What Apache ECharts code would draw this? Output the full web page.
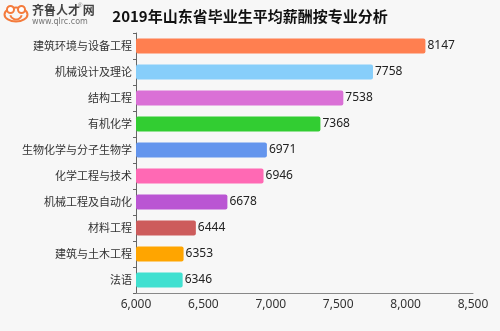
<!DOCTYPE html>
<html><head><meta charset="utf-8">
<script src="https://cdn.jsdelivr.net/npm/echarts@6/dist/echarts.min.js"></script>
<style>html,body{margin:0;padding:0;background:#f7f7f7;}#c{width:500px;height:331px;}</style>
</head><body><div id="c"></div>
<script>
const categories = ['建筑环境与设备工程','机械设计及理论','结构工程','有机化学','生物化学与分子生物学','化学工程与技术','机械工程及自动化','材料工程','建筑与土木工程','法语'];
const salaries = [8147, 7758, 7538, 7368, 6971, 6946, 6678, 6444, 6353, 6346];
const barColors = ['#ff7f50','#87cefa','#da70d6','#32cd32','#6495ed','#ff69b4','#ba55d3','#cd5c5c','#ffa500','#40e0d0'];
const titleText = '2019年山东省毕业生平均薪酬按专业分析';

const chart = echarts.init(document.getElementById('c'));
chart.setOption({
  backgroundColor: '#f7f7f7',
  animation: false,
  title: {
    text: titleText, left: 'center', top: 4,
    textStyle: {fontSize: 15, fontWeight: 'bold', color: '#111', fontFamily: 'Noto Sans CJK SC'}
  },
  graphic: [
    {type: 'group', left: 2, top: 5, children: [
      {type: 'ellipse', shape: {cx: 12.5, cy: 10, rx: 11.5, ry: 7}, style: {fill: 'none', stroke: '#f47b3c', lineWidth: 2}},
      {type: 'circle', shape: {cx: 7, cy: 5, r: 3.5}, style: {fill: '#fff', stroke: '#f47b3c', lineWidth: 2}},
      {type: 'circle', shape: {cx: 18, cy: 5, r: 3.5}, style: {fill: '#fff', stroke: '#f47b3c', lineWidth: 2}},
      {type: 'arc', shape: {cx: 12.5, cy: 9, r: 6, startAngle: 0.3, endAngle: Math.PI - 0.3}, style: {fill: 'none', stroke: '#f47b3c', lineWidth: 2}}
    ]},
    {type: 'text', left: 32, top: 4, style: {text: '齐鲁人才 网', fontSize: 12, fontWeight: 'bold', fill: '#444', fontFamily: 'Noto Sans CJK SC'}},
    {type: 'text', left: 78, top: 2, style: {text: '®', fontSize: 6, fill: '#777'}},
    {type: 'text', left: 32, top: 18, style: {text: 'www.qlrc.com', fontSize: 8, fill: '#777', fontFamily: 'DejaVu Sans'}}
  ],
  grid: {left: 136, right: 27, top: 33, bottom: 38, containLabel: false},
  xAxis: {
    type: 'value', min: 6000, max: 8500, interval: 500,
    axisLine: {show: true, lineStyle: {color: '#888'}},
    axisTick: {show: false},
    splitLine: {show: false},
    axisLabel: {color: '#333', fontSize: 12, margin: 6, fontFamily: 'Noto Sans',
      formatter: v => v.toLocaleString('en-US')}
  },
  yAxis: {
    type: 'category', data: categories, inverse: true,
    axisLine: {show: true, lineStyle: {color: '#666'}},
    axisTick: {show: true, length: 3, lineStyle: {color: '#666'}},
    axisLabel: {color: '#333', fontSize: 11, margin: 4, fontFamily: 'Noto Sans CJK SC'}
  },
  series: [{
    type: 'bar', barWidth: 15,
    data: salaries.map((v, i) => ({value: v, itemStyle: {color: barColors[i]}})),
    itemStyle: {borderRadius: 2},
    label: {show: true, position: 'right', distance: 2, color: '#222', fontSize: 12, fontFamily: 'Noto Sans'}
  }]
});
</script></body></html>
